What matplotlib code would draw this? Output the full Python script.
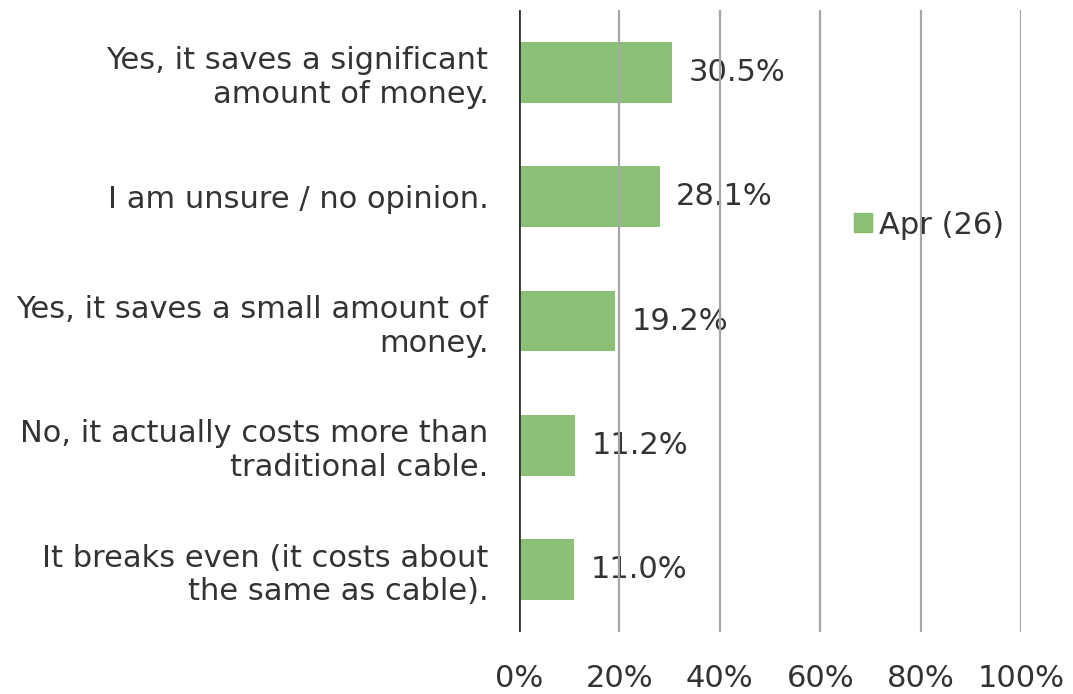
import matplotlib
matplotlib.use("Agg")
import matplotlib.pyplot as plt
from matplotlib.patches import Patch

categories = [
    "Yes, it saves a significant\namount of money.",
    "I am unsure / no opinion.",
    "Yes, it saves a small amount of\nmoney.",
    "No, it actually costs more than\ntraditional cable.",
    "It breaks even (it costs about\nthe same as cable).",
]
values = [30.5, 28.1, 19.2, 11.2, 11.0]
series_name = "Apr (26)"
xticks = [0, 20, 40, 60, 80, 100]

FS = 22
TXT = "#333333"
BAR = "#7DB864"

fig = plt.figure(figsize=(10.73, 6.94), dpi=100)
ax = fig.add_axes([519/1073, 62/694, 502/1073, 622/694])

ypos = list(range(len(categories)))[::-1]
ax.barh(ypos, values, height=0.49, color=BAR, alpha=0.88, zorder=1)
ax.set_xlim(0, 100)
ax.set_ylim(-0.5, len(categories) - 0.5)

ax.set_xticks(xticks)
ax.set_xticklabels([f"{t}%" for t in xticks], fontsize=FS, color=TXT)
ax.set_yticks(ypos)
ax.set_yticklabels(categories, fontsize=FS, color=TXT, ha="right")
ax.tick_params(axis="y", length=0, pad=22)
ax.tick_params(axis="x", length=0, pad=23)

for x in xticks[1:]:
    ax.axvline(x, color="#A6A6A6", lw=1.6, zorder=2)
ax.axvline(0, color="#333333", lw=2, zorder=3)
for s in ax.spines.values():
    s.set_visible(False)

for y, v in zip(ypos, values):
    ax.text(v + 3.2, y, f"{v:.1f}%", va="center", ha="left", fontsize=FS, color=TXT, zorder=1.5)

leg = fig.legend(handles=[Patch(color=BAR, alpha=0.88, label=series_name)],
                 loc="center left", bbox_to_anchor=(826/1073, 1 - 225/694),
                 frameon=False, fontsize=FS, handlelength=0.6, handleheight=0.6,
                 handletextpad=0.25, labelcolor=TXT)

fig.savefig("out.png", dpi=100)
